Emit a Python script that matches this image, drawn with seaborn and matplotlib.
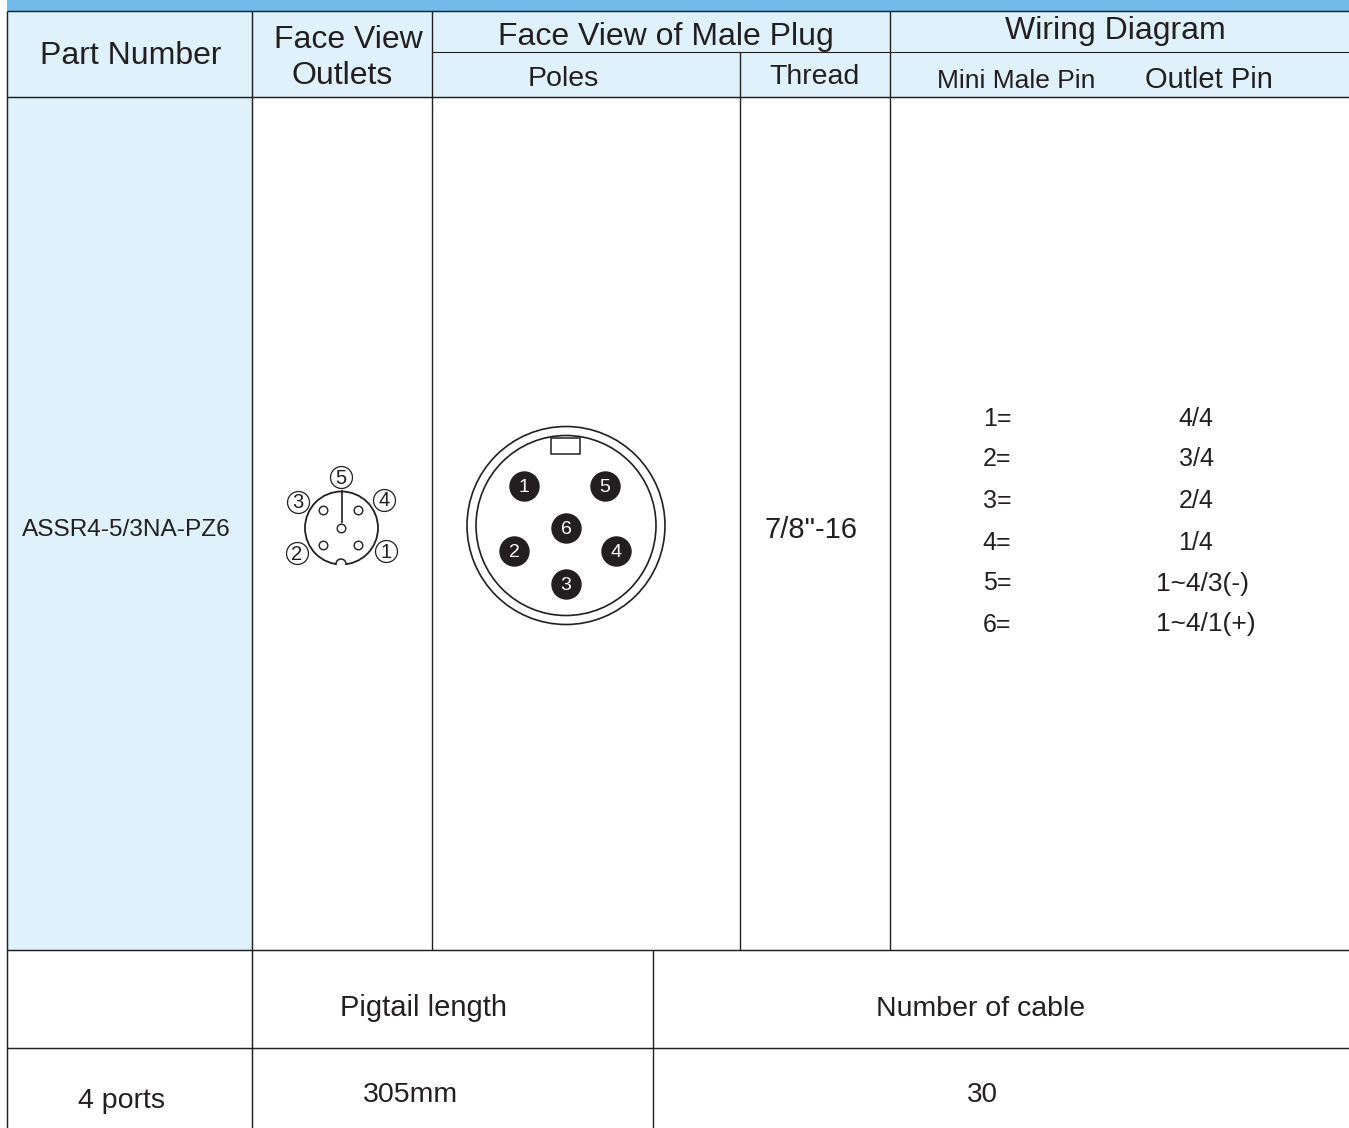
import matplotlib
matplotlib.use("Agg")
import matplotlib.pyplot as plt
from matplotlib.patches import Circle, Rectangle
import pandas as pd
import seaborn as sns

# table text
header_labels = ["Part Number", "Face View", "Outlets", "Face View of Male Plug", "Wiring Diagram"]
sub_labels = ["Poles", "Thread", "Mini Male Pin", "Outlet Pin"]
part_number = "ASSR4-5/3NA-PZ6"
thread = '7/8"-16'
mini_pins = ["1=", "2=", "3=", "4=", "5=", "6="]
outlet_pins = ["4/4", "3/4", "2/4", "1/4", "1~4/3(-)", "1~4/1(+)"]
pin_rows = [417, 457, 498, 541, 581, 623]
outlet_rows = [417, 457, 498, 541, 581, 621]
outlet_cols = [1196, 1196, 1196, 1196, 1203, 1206]
outlet_sizes = [18, 18, 18, 18, 19, 19]
foot_labels = ["Pigtail length", "Number of cable"]
foot_values = ["4 ports", "305mm", "30"]

# male plug pins
plug_pins = pd.DataFrame({
    "x": [524, 514, 566, 616, 605, 566],
    "y": [486, 551, 584, 551, 486, 528],
    "label": ["1", "2", "3", "4", "5", "6"],
})

# outlet holes and numbered circles
outlet_holes = pd.DataFrame({"x": [323, 358, 341, 323, 358], "y": [510, 510, 528, 545, 545]})
outlet_tags = pd.DataFrame({
    "x": [386, 297, 298, 384, 341],
    "y": [551, 553, 502, 500, 477],
    "label": ["1", "2", "3", "4", "5"],
})

sns.set_theme(style="white")
plt.rcParams["font.family"] = ["Liberation Sans", "DejaVu Sans"]

LINE = "#231f20"
PALE = "#dff2fb"
BAND = "#72bbe8"

fig, ax = plt.subplots(figsize=(13.49, 11.28), dpi=100)
fig.subplots_adjust(0, 0, 1, 1)
ax.set_xlim(0, 1349)
ax.set_ylim(1128, 0)
ax.axis("off")

# backgrounds
ax.add_patch(Rectangle((7, 0), 1342, 11, color=BAND, lw=0))
ax.add_patch(Rectangle((7, 11), 1342, 86, color=PALE, lw=0))
ax.add_patch(Rectangle((7, 97), 245, 853, color=PALE, lw=0))

# grid lines
ax.hlines([11, 97, 950, 1048], 7, 1349, color=LINE, lw=1.05)
ax.hlines(52, 432, 1349, color=LINE, lw=0.8)
ax.vlines([7, 252], 11, 1128, color=LINE, lw=1.05)
ax.vlines([432, 890], 11, 950, color=LINE, lw=1.0)
ax.vlines(740, 52, 950, color=LINE, lw=1.0)
ax.vlines(653, 950, 1128, color=LINE, lw=1.0)

def label(x, y, s, size, **kw):
    ax.text(x, y + 2.5, s, fontsize=size, color=LINE, ha="center", va="center", **kw)

# header
label(131, 54, header_labels[0], 23)
label(348, 37, header_labels[1], 23)
label(342, 73, header_labels[2], 23)
label(666, 34, header_labels[3], 23)
label(1115, 29, header_labels[4], 23)
label(563, 77, sub_labels[0], 20.5)
label(814, 75, sub_labels[1], 20.5)
label(1016, 79, sub_labels[2], 19)
label(1209, 78, sub_labels[3], 21)

# body
label(126, 528, part_number, 17.6)
label(811, 527, thread, 21)
for y, s in zip(pin_rows, mini_pins):
    label(997, y, s, 18)
for x, y, s, size in zip(outlet_cols, outlet_rows, outlet_pins, outlet_sizes):
    label(x, y, s, size)

# footer
label(424, 1006, foot_labels[0], 21)
label(981, 1006, foot_labels[1], 20.5)
label(122, 1098, foot_values[0], 20.5)
label(410, 1093, foot_values[1], 20.5)
label(982, 1093, foot_values[2], 20)

# outlet drawing
ax.add_patch(Circle((341.5, 528), 36.5, fill=False, ec=LINE, lw=1.3))
ax.add_patch(Circle((341, 564), 5, fc="white", ec=LINE, lw=1.1, zorder=3))
ax.add_patch(Rectangle((334, 565), 15, 5, color="white", lw=0, zorder=4))
ax.vlines(341.5, 490, 523, color=LINE, lw=1.2)
sns.scatterplot(data=outlet_holes, x="x", y="y", s=38, color="white", edgecolor=LINE,
                linewidth=1.0, ax=ax, legend=False, zorder=5)
sns.scatterplot(data=outlet_tags, x="x", y="y", s=250, color="white", edgecolor=LINE,
                linewidth=0.9, ax=ax, legend=False, zorder=5)
for row in outlet_tags.itertuples():
    ax.text(row.x, row.y + 1, row.label, fontsize=14.5, color=LINE, ha="center", va="center", zorder=6)

# male plug drawing
ax.add_patch(Circle((566, 525.5), 99, fill=False, ec=LINE, lw=1.2))
ax.add_patch(Circle((566, 525.5), 90, fill=False, ec=LINE, lw=1.2))
ax.add_patch(Rectangle((551, 438), 29, 16, fc="white", ec=LINE, lw=1.1, zorder=3))
sns.scatterplot(data=plug_pins, x="x", y="y", s=480, color=LINE, linewidth=0, ax=ax,
                legend=False, zorder=5)
for row in plug_pins.itertuples():
    ax.text(row.x, row.y + 1.5, row.label, fontsize=14, color="white", ha="center", va="center", zorder=6)

ax.set_xlim(0, 1349)
ax.set_ylim(1128, 0)
ax.set_xlabel("")
ax.set_ylabel("")
fig.savefig("out.png", dpi=100)
